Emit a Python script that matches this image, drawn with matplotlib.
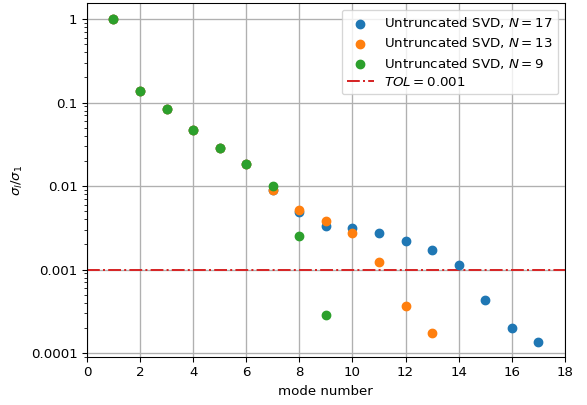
# Singular value decay of untruncated SVD for several N
import matplotlib
matplotlib.use("Agg")
import matplotlib.pyplot as plt
from matplotlib.ticker import FixedLocator, FixedFormatter

# Normalised singular values
modes17 = list(range(1, 18))
sv17 = [1, 0.138, 0.0843, 0.0465, 0.0285, 0.0182, 0.0090, 0.00492, 0.00335,
        0.00314, 0.00276, 0.00217, 0.0017, 0.00113, 0.000428, 0.000201, 0.000136]

modes13 = list(range(1, 14))
sv13 = [1, 0.138, 0.0843, 0.0465, 0.0285, 0.0182, 0.00887, 0.00516, 0.00384,
        0.00276, 0.00124, 0.000369, 0.000175]

modes9 = list(range(1, 10))
sv9 = [1, 0.138, 0.0843, 0.0465, 0.0285, 0.0182, 0.0101, 0.0025, 0.000285]

tol = 0.001
yticks = [1, 0.1, 0.01, 0.001, 0.0001]
ytick_labels = ['1', '0.1', '0.01', '0.001', '0.0001']

fig = plt.figure(figsize=(587 / 96, 405 / 96), dpi=96)
ax = fig.add_axes([0.148, 0.1185, 0.8143, 0.874])

ax.scatter(modes17, sv17, s=40, color='tab:blue', label=r'Untruncated SVD, $N=17$', zorder=3)
ax.scatter(modes13, sv13, s=40, color='tab:orange', label=r'Untruncated SVD, $N=13$', zorder=3)
ax.scatter(modes9, sv9, s=40, color='tab:green', label=r'Untruncated SVD, $N=9$', zorder=3)
ax.axhline(tol, color='tab:red', linestyle='-.', linewidth=1.5, label=r'$TOL=0.001$', zorder=2)

ax.set_yscale('log')
ax.set_ylim(8.95e-5, 1.555)
ax.set_xlim(0, 18)
ax.set_xticks(range(0, 19, 2))
ax.yaxis.set_major_locator(FixedLocator(yticks))
ax.yaxis.set_major_formatter(FixedFormatter(ytick_labels))
ax.grid(True, which='major', color='#b0b0b0', linewidth=1)

ax.set_xlabel('mode number')
ax.set_ylabel(r'$\sigma_l/\sigma_1$')
ax.legend(loc='upper right', labelspacing=0.4)

plt.savefig('out.png', dpi=96)
